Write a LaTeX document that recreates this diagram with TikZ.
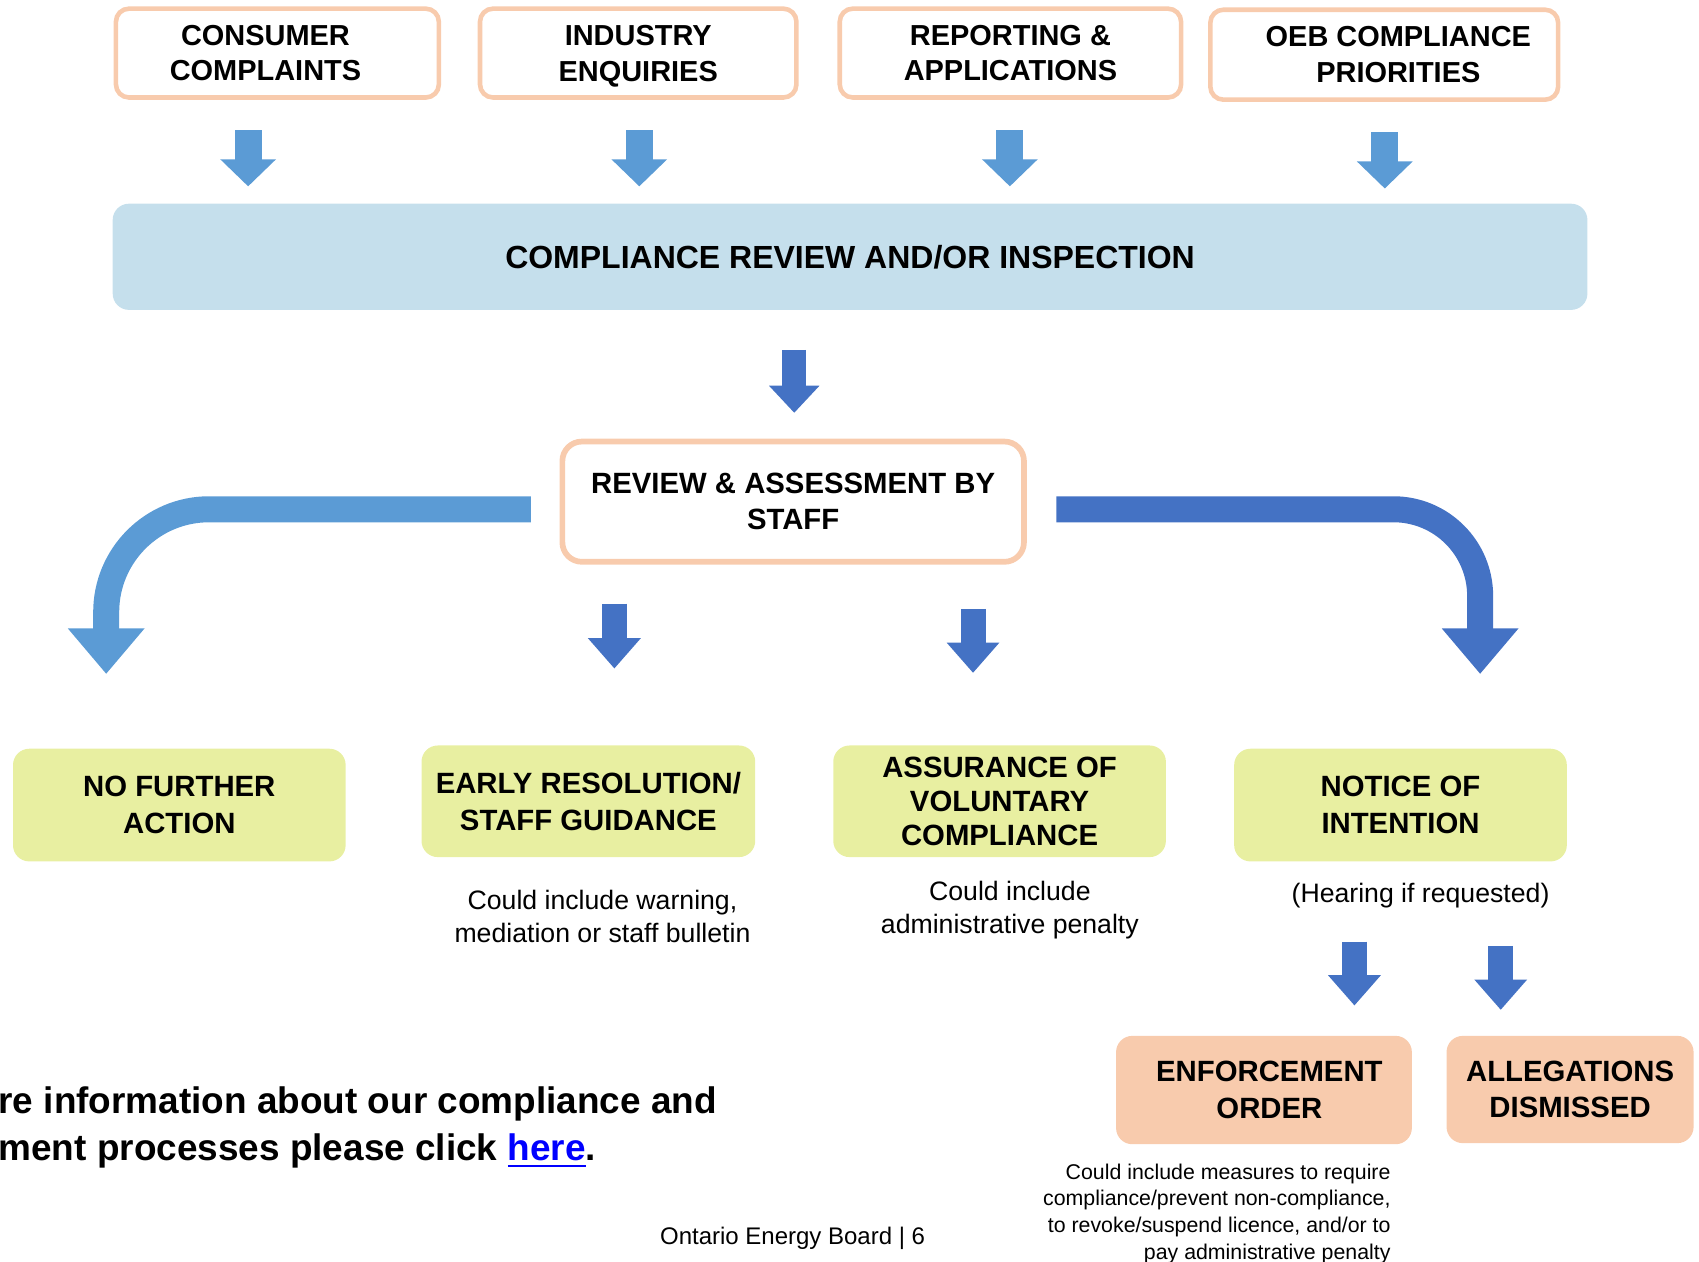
\documentclass[tikz,border=0pt]{standalone}
\usepackage{fontspec}
\setmainfont{Liberation Sans}
\usetikzlibrary{arrows.meta}
\definecolor{peach}{HTML}{F8CBAD}
\definecolor{outcome}{HTML}{E8EFA1}
\definecolor{paleblue}{HTML}{C5DFEC}
\definecolor{midblue}{HTML}{5B9BD5}
\definecolor{deepblue}{HTML}{4472C4}
\tikzset{
  src/.style = {draw=peach, line width=1.2pt, rounded corners=0.12cm, fill=white, align=center,
    inner sep=0pt, minimum height=0.82cm, font=\fontsize{7.6}{9.4}\selectfont\bfseries},
  result/.style = {fill=outcome, rounded corners=0.15cm, align=center, inner sep=0pt,
    minimum width=3.07cm, minimum height=1.03cm, font=\fontsize{7.7}{9.7}\selectfont\bfseries},
  order/.style = {fill=peach, rounded corners=0.15cm, align=center, inner sep=0pt,
    minimum height=1cm, font=\fontsize{7.7}{9.6}\selectfont\bfseries},
  note/.style = {align=center, inner sep=0pt, font=\fontsize{7}{8.6}\selectfont},
  downarrow/.style = {line width=0.23cm, -{Triangle[width=0.47cm, length=0.28cm]}},
  bendarrow/.style = {line width=0.24cm, -{Triangle[width=0.68cm, length=0.42cm]}}
}
\begin{document}
\begin{tikzpicture}
\useasboundingbox (0,0) rectangle (15.68,-11.64);

\node[src, minimum width=2.98cm] (cc) at (2.56,-0.49) {CONSUMER\hspace*{0.22cm}\\COMPLAINTS\hspace*{0.22cm}};
\node[src, minimum width=2.92cm] (ie) at (5.89,-0.49) {INDUSTRY\\\raisebox{0pt}[\height][0pt]{ENQUIRIES}};
\node[src, minimum width=3.15cm] (ra) at (9.325,-0.49) {REPORTING \&\\APPLICATIONS};
\node[src, minimum width=3.21cm, minimum height=0.83cm] (oeb) at (12.775,-0.505) {\hspace*{0.26cm}OEB COMPLIANCE\\\hspace*{0.26cm}PRIORITIES};

\node[fill=paleblue, rounded corners=0.15cm, minimum width=13.61cm, minimum height=0.98cm,
  font=\fontsize{8.4}{10}\selectfont\bfseries] (crev) at (7.845,-2.37) {COMPLIANCE REVIEW AND/OR INSPECTION};

\node[src, line width=1.5pt, rounded corners=0.18cm, minimum width=4.26cm, minimum height=1.11cm,
  font=\fontsize{7.7}{9.4}\selectfont\bfseries] (rev) at (7.32,-4.63) {REVIEW \& ASSESSMENT BY\\STAFF};

\node[result, minimum height=1.04cm] (nfa) at (1.655,-7.43) {NO FURTHER\\ACTION};
\node[result, minimum width=3.08cm] (er) at (5.43,-7.395) {EARLY RESOLUTION/\\STAFF GUIDANCE};
\node[result, font=\fontsize{7.7}{8.9}\selectfont\bfseries] (avc) at (9.225,-7.395) {ASSURANCE OF\\VOLUNTARY\\COMPLIANCE};
\node[result, minimum height=1.04cm] (noi) at (12.925,-7.43) {NOTICE OF\\INTENTION};

\node[note] (ern) at (5.56,-8.455) {Could include warning,\\mediation or staff bulletin};
\node[note] (avcn) at (9.32,-8.40) {Could include\\administrative penalty};
\node[note] (noin) at (13.11,-8.27) {(Hearing if requested)};

\node[order, minimum width=2.73cm] (eo) at (11.665,-10.06) {\hspace*{0.1cm}ENFORCEMENT\\\hspace*{0.1cm}ORDER};
\node[order, minimum width=2.28cm, minimum height=0.99cm] (ad) at (14.49,-10.055) {ALLEGATIONS\\DISMISSED};
\node[note, anchor=east, align=right, font=\fontsize{5.6}{7}\selectfont] (eon) at (12.84,-11.20)
  {Could include measures to require\\compliance/prevent non-compliance,\\to revoke/suspend licence, and/or to\\pay administrative penalty};

\node[anchor=west, align=left, inner sep=0pt, font=\fontsize{9.7}{12.2}\selectfont\bfseries] (more) at (-0.02,-10.405)
  {re information about our compliance and\\ment processes please click \textcolor{blue}{\underline{here}}.};
\node[inner sep=0pt, font=\fontsize{6.3}{7.5}\selectfont] (foot) at (7.315,-11.43) {Ontario Energy Board | 6};

\coordinate (a1) at (2.29,-1.20);  \coordinate (a1e) at (2.29,-1.72);
\coordinate (a2) at (5.90,-1.20);  \coordinate (a2e) at (5.90,-1.72);
\coordinate (a3) at (9.32,-1.20);  \coordinate (a3e) at (9.32,-1.72);
\coordinate (a4) at (12.78,-1.22); \coordinate (a4e) at (12.78,-1.74);
\coordinate (b1) at (7.33,-3.23);  \coordinate (b1e) at (7.33,-3.81);
\coordinate (c1) at (5.67,-5.57);  \coordinate (c1e) at (5.67,-6.17);
\coordinate (c2) at (8.98,-5.62);  \coordinate (c2e) at (8.98,-6.21);
\coordinate (l1) at (4.90,-4.70);  \coordinate (l1e) at (0.98,-6.22);
\coordinate (r1) at (9.75,-4.70);  \coordinate (r1e) at (13.66,-6.22);
\coordinate (d1) at (12.50,-8.69); \coordinate (d1e) at (12.50,-9.28);
\coordinate (d2) at (13.85,-8.73); \coordinate (d2e) at (13.85,-9.32);

\draw[downarrow, draw=midblue, line width=0.25cm, -{Triangle[width=0.5cm, length=0.25cm]}] (a1) -- (a1e);
\draw[downarrow, draw=midblue, line width=0.25cm, -{Triangle[width=0.5cm, length=0.25cm]}] (a2) -- (a2e);
\draw[downarrow, draw=midblue, line width=0.25cm, -{Triangle[width=0.5cm, length=0.25cm]}] (a3) -- (a3e);
\draw[downarrow, draw=midblue, line width=0.25cm, -{Triangle[width=0.5cm, length=0.25cm]}] (a4) -- (a4e);
\draw[downarrow, draw=deepblue, line width=0.22cm, -{Triangle[width=0.45cm, length=0.25cm]}] (b1) -- (b1e);
\draw[downarrow, draw=deepblue] (c1) -- (c1e);
\draw[downarrow, draw=deepblue] (c2) -- (c2e);
\draw[downarrow, draw=deepblue] (d1) -- (d1e);
\draw[downarrow, draw=deepblue] (d2) -- (d2e);
\draw[bendarrow, draw=midblue, rounded corners=0.95cm] (l1) -| (l1e);
\draw[bendarrow, draw=deepblue, rounded corners=0.8cm] (r1) -| (r1e);
\end{tikzpicture}
\end{document}
